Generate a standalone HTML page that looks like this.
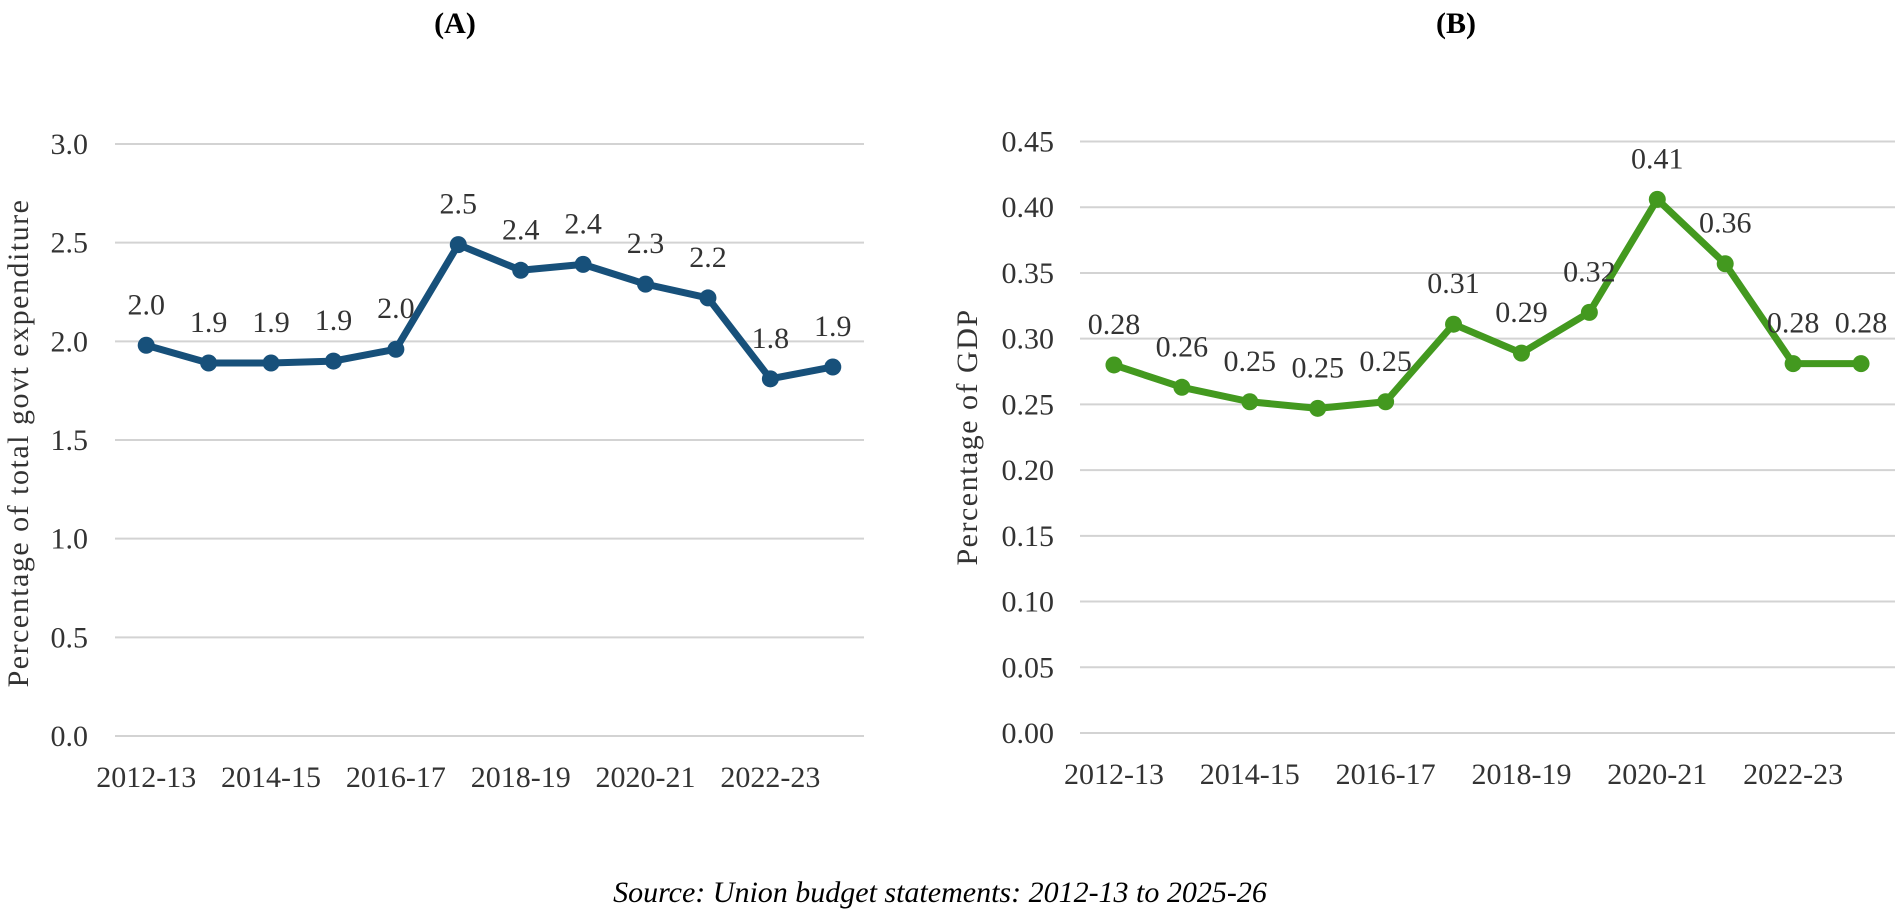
<!DOCTYPE html>
<html><head><meta charset="utf-8"><style>
html,body{margin:0;padding:0;background:#fff;}
svg{display:block;font-family:"Liberation Serif",serif;}
</style></head><body>
<svg id="svg" width="1902" height="917" viewBox="0 0 1902 917" xmlns="http://www.w3.org/2000/svg">
<text x="455" y="33" font-size="30" font-weight="bold" text-anchor="middle">(A)</text>
<text x="1456" y="33" font-size="30" font-weight="bold" text-anchor="middle">(B)</text>
<text transform="translate(28,443) rotate(-90)" font-size="30" text-anchor="middle" fill="#333" letter-spacing="1.5">Percentage of total govt expenditure</text>
<text transform="translate(977,437) rotate(-90)" font-size="30" text-anchor="middle" fill="#333" letter-spacing="1.5">Percentage of GDP</text>
<text x="940" y="902" font-size="30" font-style="italic" text-anchor="middle">Source:  Union budget statements:  2012-13 to 2025-26</text>
<g id="ca"></g>
<g id="cb"></g>
</svg>
<script>
const categories = ["2012-13","2013-14","2014-15","2015-16","2016-17","2017-18","2018-19","2019-20","2020-21","2021-22","2022-23","2023-24"];
const tickLabelsX = ["2012-13","","2014-15","","2016-17","","2018-19","","2020-21","","2022-23",""];
const valuesA = [1.98,1.89,1.89,1.90,1.96,2.49,2.36,2.39,2.29,2.22,1.81,1.87];
const labelsA = ["2.0","1.9","1.9","1.9","2.0","2.5","2.4","2.4","2.3","2.2","1.8","1.9"];
const ticksA = [0,0.5,1.0,1.5,2.0,2.5,3.0];
const tickLabelsA = ["0.0","0.5","1.0","1.5","2.0","2.5","3.0"];
const valuesB = [0.280,0.263,0.252,0.247,0.252,0.311,0.289,0.320,0.406,0.357,0.281,0.281];
const labelsB = ["0.28","0.26","0.25","0.25","0.25","0.31","0.29","0.32","0.41","0.36","0.28","0.28"];
const ticksB = [0,0.05,0.10,0.15,0.20,0.25,0.30,0.35,0.40,0.45];
const tickLabelsB = ["0.00","0.05","0.10","0.15","0.20","0.25","0.30","0.35","0.40","0.45"];

const NS="http://www.w3.org/2000/svg";
function mk(tag,attrs,parent){const e=document.createElementNS(NS,tag);for(const k in attrs)e.setAttribute(k,attrs[k]);parent.appendChild(e);return e;}

function drawChart(g,cfg){
  const {x0,x1,yTop,yBot,max,ticks,tickLabels,values,labels,color,tickRight,id}=cfg;
  const n=categories.length, bw=(x1-x0)/n;
  const xs=i=>x0+bw*(i+0.5);
  const ys=v=>yBot-(v/max)*(yBot-yTop);
  ticks.forEach((t,i)=>{
    const l=mk('line',{x1:x0,x2:x1,y1:ys(t),y2:ys(t),stroke:'#d3d3d3','stroke-width':2},g);
    
    
    const tx=mk('text',{x:tickRight,y:ys(t)+10,'font-size':30,'text-anchor':'end',fill:'#333'},g);
    tx.textContent=tickLabels[i];
    
    
  });
  tickLabelsX.forEach((s,i)=>{
    if(!s)return;
    const tx=mk('text',{x:xs(i),y:yBot+51,'font-size':30,'text-anchor':'middle',fill:'#333'},g);
    tx.textContent=s;
    
    
  });
  const pts=values.map((v,i)=>xs(i)+','+ys(v)).join(' ');
  const pl=mk('polyline',{points:pts,fill:'none',stroke:color,'stroke-width':7,'stroke-linejoin':'round'},g);
  
  
  values.forEach((v,i)=>{
    const c=mk('circle',{cx:xs(i),cy:ys(v),r:8.5,fill:color},g);
    
    
    const t=mk('text',{x:xs(i),y:ys(v)-31,'font-size':30,'text-anchor':'middle',fill:'#333'},g);
    t.textContent=labels[i];
    
    
  });
}
drawChart(document.getElementById('ca'),{id:'a',x0:115,x1:864,yTop:144,yBot:736,max:3.0,ticks:ticksA,tickLabels:tickLabelsA,values:valuesA,labels:labelsA,color:'#17507a',tickRight:88});
drawChart(document.getElementById('cb'),{id:'b',x0:1080,x1:1895,yTop:141.5,yBot:733,max:0.45,ticks:ticksB,tickLabels:tickLabelsB,values:valuesB,labels:labelsB,color:'#43991f',tickRight:1054});
</script>
</body></html>
